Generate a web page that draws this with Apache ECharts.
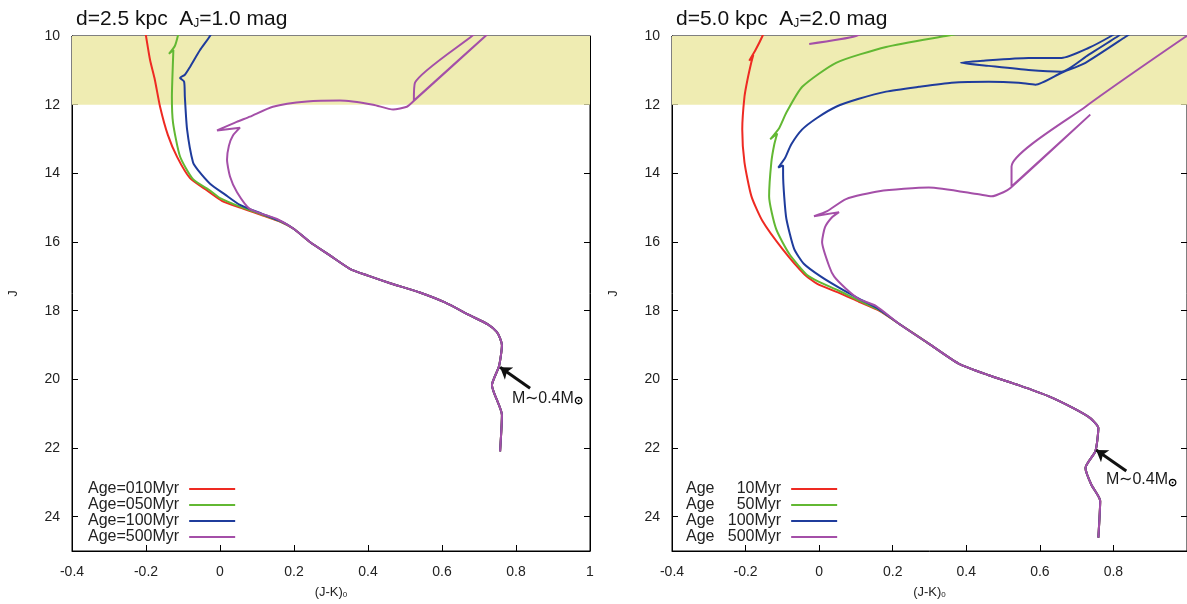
<!DOCTYPE html>
<html><head><meta charset="utf-8">
<script src="https://cdn.jsdelivr.net/npm/echarts@6/dist/echarts.min.js"></script>
<style>html,body{margin:0;padding:0;background:#fff}#c{width:1187px;height:604px}</style>
</head><body><div id="c"></div>
<script>
// ---------------- data (x = (J-K)0, y = J) ----------------
const xRange = [-0.4, 1.0, 0.2];
const yRange = [10, 25, 2];
const bandJ = [10, 12];
const titles = ['d=2.5 kpc  A{s|J}=1.0 mag', 'd=5.0 kpc  A{s|J}=2.0 mag'];
const leftNames = ['Age=010Myr', 'Age=050Myr', 'Age=100Myr', 'Age=500Myr'];
const rightNames = ['Age     10Myr', 'Age     50Myr', 'Age   100Myr', 'Age   500Myr'];
const massLabel = 'M∼0.4M{s|⊙}';

// left panel: shared lower main sequence (bottom -> top)
const msLeft = [[0.757,22.1],[0.762,21.04],[0.735,20.17],[0.754,19.62],[0.762,19.01],[0.757,18.81],[0.748,18.62],[0.724,18.4],[0.676,18.14],[0.608,17.76],[0.54,17.47],[0.46,17.2],[0.40,16.98],[0.351,16.78],[0.297,16.39],[0.243,16.0],[0.2,15.62]];
const redLeft = [[0.165,15.42],[0.114,15.22],[0.054,15.0],[0.005,14.8],[-0.035,14.5],[-0.081,14.14],[-0.116,13.52],[-0.141,12.88],[-0.162,12.06],[-0.176,11.28],[-0.189,10.7],[-0.2,10.0],[-0.203,9.8]];
const greenLeft = [[0.165,15.41],[0.114,15.2],[0.054,14.97],[0.0,14.72],[-0.027,14.5],[-0.073,14.17],[-0.108,13.51],[-0.127,12.52],[-0.13,11.77],[-0.127,10.7],[-0.126,10.41],[-0.138,10.52],[-0.122,10.29],[-0.114,10.0],[-0.111,9.8]];
const blueLeft = [[0.165,15.4],[0.114,15.18],[0.054,14.92],[0.014,14.62],[-0.027,14.3],[-0.06,13.9],[-0.073,13.68],[-0.089,12.72],[-0.095,11.77],[-0.097,11.33],[-0.108,11.22],[-0.095,11.13],[-0.081,10.9],[-0.054,10.41],[-0.027,10.0],[-0.019,9.8]];
const purpleLeft = [[0.154,15.33],[0.081,15.04],[0.046,14.55],[0.027,14.09],[0.019,13.6],[0.024,13.2],[0.035,12.9],[0.054,12.67],[-0.008,12.75],[0.045,12.5],[0.081,12.35],[0.143,12.06],[0.235,11.91],[0.324,11.88],[0.414,12.0],[0.468,12.14],[0.505,12.06],[0.522,11.91],[0.738,9.8],[0.524,11.88],[0.527,11.36],[0.681,10.0],[0.73,9.57]];
const arrowLeft = [[0.838,20.26],[0.757,19.65]];
const labelLeft = [0.789,20.55];

// right panel
const msRight = [[0.759,24.61],[0.764,23.54],[0.74,23.07],[0.724,22.58],[0.751,22.09],[0.759,21.42],[0.737,21.13],[0.691,20.84],[0.623,20.49],[0.542,20.17],[0.461,19.88],[0.379,19.54],[0.298,18.96],[0.217,18.38]];
const redRight = [[0.163,18.0],[0.108,17.74],[0.054,17.48],[-0.005,17.22],[-0.041,16.93],[-0.1,16.2],[-0.154,15.39],[-0.184,14.67],[-0.203,13.68],[-0.209,12.72],[-0.203,11.77],[-0.195,11.28],[-0.184,10.75],[-0.179,10.55],[-0.19,10.72],[-0.173,10.41],[-0.154,10.0],[-0.146,9.77]];
const greenRight = [[0.163,17.98],[0.108,17.71],[0.054,17.42],[0,17.16],[-0.033,16.96],[-0.081,16.35],[-0.117,15.62],[-0.136,14.67],[-0.13,13.68],[-0.122,13.16],[-0.114,12.84],[-0.133,13.01],[-0.108,12.67],[-0.089,12.23],[-0.046,11.48],[0.046,10.78],[0.182,10.32],[0.344,10.0],[0.434,9.83]];
const blueRight = [[0.163,17.96],[0.108,17.65],[0.054,17.33],[0.005,17.01],[-0.041,16.64],[-0.068,16.2],[-0.089,15.33],[-0.095,14.67],[-0.098,14.03],[-0.098,13.77],[-0.111,13.83],[-0.092,13.54],[-0.076,13.16],[-0.046,12.72],[-0.005,12.38],[0.046,12.06],[0.108,11.83],[0.182,11.62],[0.271,11.48],[0.36,11.36],[0.461,11.33],[0.542,11.36],[0.588,11.42],[0.659,11.07],[0.724,10.78],[0.832,10.03],[0.867,9.77],[0.84,9.77],[0.813,10.0],[0.732,10.55],[0.659,11.04],[0.569,10.99],[0.461,10.87],[0.385,10.78],[0.447,10.72],[0.569,10.64],[0.659,10.64],[0.732,10.35],[0.794,10.0],[0.827,9.77]];
const purpleRight = [[0.154,17.86],[0.108,17.66],[0.073,17.36],[0.041,17.01],[0.027,16.7],[0.008,16.0],[0.016,15.57],[0.035,15.28],[0.054,15.13],[-0.014,15.25],[0.022,15.1],[0.073,14.75],[0.163,14.52],[0.298,14.41],[0.434,14.61],[0.469,14.67],[0.501,14.55],[0.52,14.43],[0.737,12.29],[0.523,14.38],[0.523,13.8],[0.724,12.06],[0.995,10.03],[1.1,9.3],[0.2,9.5],[0.1,10.0],[-0.027,10.23]];
const arrowRight = [[0.835,22.67],[0.753,22.06]];
const labelRight = [0.78,22.93];

// ---------------- chart ----------------
const FONT = '"Liberation Sans", Arial, Helvetica, sans-serif';
const colors = ['#ee2a22', '#62b833', '#1f3c9c', '#a44fa8'];
const grids = [
  {left: 72, top: 36, width: 518, height: 517},
  {left: 672, top: 36, width: 516, height: 517}
];
const chart = echarts.init(document.getElementById('c'), null, {renderer: 'canvas'});

const xAxes = [], yAxes = [], series = [], legends = [], titleComps = [];
const panels = [
  {names: leftNames, ms: msLeft, tracks: [redLeft, greenLeft, blueLeft, purpleLeft], arrow: arrowLeft, label: labelLeft, legendLeft: 88, hideMaxX: false},
  {names: rightNames, ms: msRight, tracks: [redRight, greenRight, blueRight, purpleRight], arrow: arrowRight, label: labelRight, legendLeft: 686, hideMaxX: true}
];
const lineAx = {show: true, onZero: false, lineStyle: {color: '#000', width: 1}};
const tickAx = {show: true, inside: true, length: 6, lineStyle: {color: '#000'}};

panels.forEach((p, i) => {
  const g = grids[i];
  titleComps.push({
    text: titles[i], left: g.left - 1, top: 4,
    textStyle: {fontFamily: FONT, fontSize: 21, fontWeight: 'normal', color: '#111',
      rich: {s: {fontFamily: FONT, fontSize: 12, verticalAlign: 'bottom', padding: [8, 0, 0, 0], color: '#111'}}}
  });
  const common = {gridIndex: i, type: 'value', splitLine: {show: false}};
  xAxes.push(Object.assign({}, common, {
    position: 'bottom', min: xRange[0], max: xRange[1], interval: xRange[2],
    name: '(J-K){s|0}', nameLocation: 'middle', nameGap: 34,
    nameTextStyle: {fontFamily: FONT, fontSize: 13, color: '#222', rich: {s: {fontSize: 8, fontFamily: FONT, padding: [6, 0, 0, 0], color: '#222'}}},
    axisLine: lineAx, axisTick: tickAx,
    axisLabel: {show: true, margin: 14, fontFamily: FONT, fontSize: 14, color: '#222', showMaxLabel: !p.hideMaxX}
  }));
  xAxes.push(Object.assign({}, common, {
    position: 'top', min: xRange[0], max: xRange[1], interval: xRange[2],
    axisLine: lineAx, axisTick: tickAx, axisLabel: {show: false}
  }));
  yAxes.push(Object.assign({}, common, {
    position: 'left', min: yRange[0], max: yRange[1], interval: yRange[2], inverse: true,
    name: 'J', nameLocation: 'middle', nameGap: 52, nameRotate: 90,
    nameTextStyle: {fontFamily: FONT, fontSize: 13, color: '#222'},
    axisLine: lineAx, axisTick: tickAx,
    axisLabel: {show: true, margin: 12, fontFamily: FONT, fontSize: 14, color: '#222', showMaxLabel: false}
  }));
  yAxes.push(Object.assign({}, common, {
    position: 'right', min: yRange[0], max: yRange[1], interval: yRange[2], inverse: true,
    axisLine: lineAx, axisTick: tickAx, axisLabel: {show: false}
  }));
  const xi = i * 2, yi = i * 2;
  // yellow band
  series.push({
    type: 'line', xAxisIndex: xi, yAxisIndex: yi, data: [], silent: true, z: 1,
    markArea: {silent: true, itemStyle: {color: '#efecb2'}, data: [[{yAxis: bandJ[0]}, {yAxis: bandJ[1]}]]}
  });
  p.tracks.forEach((t, k) => {
    series.push({
      type: 'line', name: p.names[k], xAxisIndex: xi, yAxisIndex: yi,
      data: p.ms.concat(t), showSymbol: false, symbol: 'none', clip: true, smooth: 0.2,
      color: colors[k], lineStyle: {color: colors[k], width: 2}, z: 3 + k, animation: false
    });
  });
  series.push({
    type: 'lines', coordinateSystem: 'cartesian2d', xAxisIndex: xi, yAxisIndex: yi, z: 10,
    symbol: ['none', 'arrow'], symbolSize: 11,
    lineStyle: {color: '#111', width: 3, opacity: 1},
    data: [{coords: p.arrow}], animation: false
  });
  series.push({
    type: 'scatter', xAxisIndex: xi, yAxisIndex: yi, symbolSize: 0, z: 10,
    data: [p.label], animation: false, itemStyle: {opacity: 1},
    label: {show: true, position: [0, 0], align: 'left', verticalAlign: 'middle', opacity: 1,
      formatter: massLabel, fontFamily: FONT, fontSize: 16, color: '#1a1a1a',
      rich: {s: {fontSize: 11, fontFamily: FONT, color: '#000', fontWeight: 'bold', padding: [6, 0, 0, 0]}}}
  });
  legends.push({
    data: p.names, orient: 'vertical', left: p.legendLeft, top: 481, align: 'right',
    icon: 'rect', itemWidth: 46, itemHeight: 2, itemGap: 0, padding: 0,
    textStyle: {fontFamily: FONT, fontSize: 16, lineHeight: 16, color: '#222', padding: [0, 5, 0, 0]}
  });
});

chart.setOption({
  animation: false,
  backgroundColor: '#fff',
  title: titleComps,
  grid: grids.map(g => Object.assign({show: true, borderColor: '#000', borderWidth: 1, backgroundColor: 'transparent'}, g)),
  xAxis: xAxes, yAxis: yAxes, legend: legends, series: series
});
</script></body></html>
